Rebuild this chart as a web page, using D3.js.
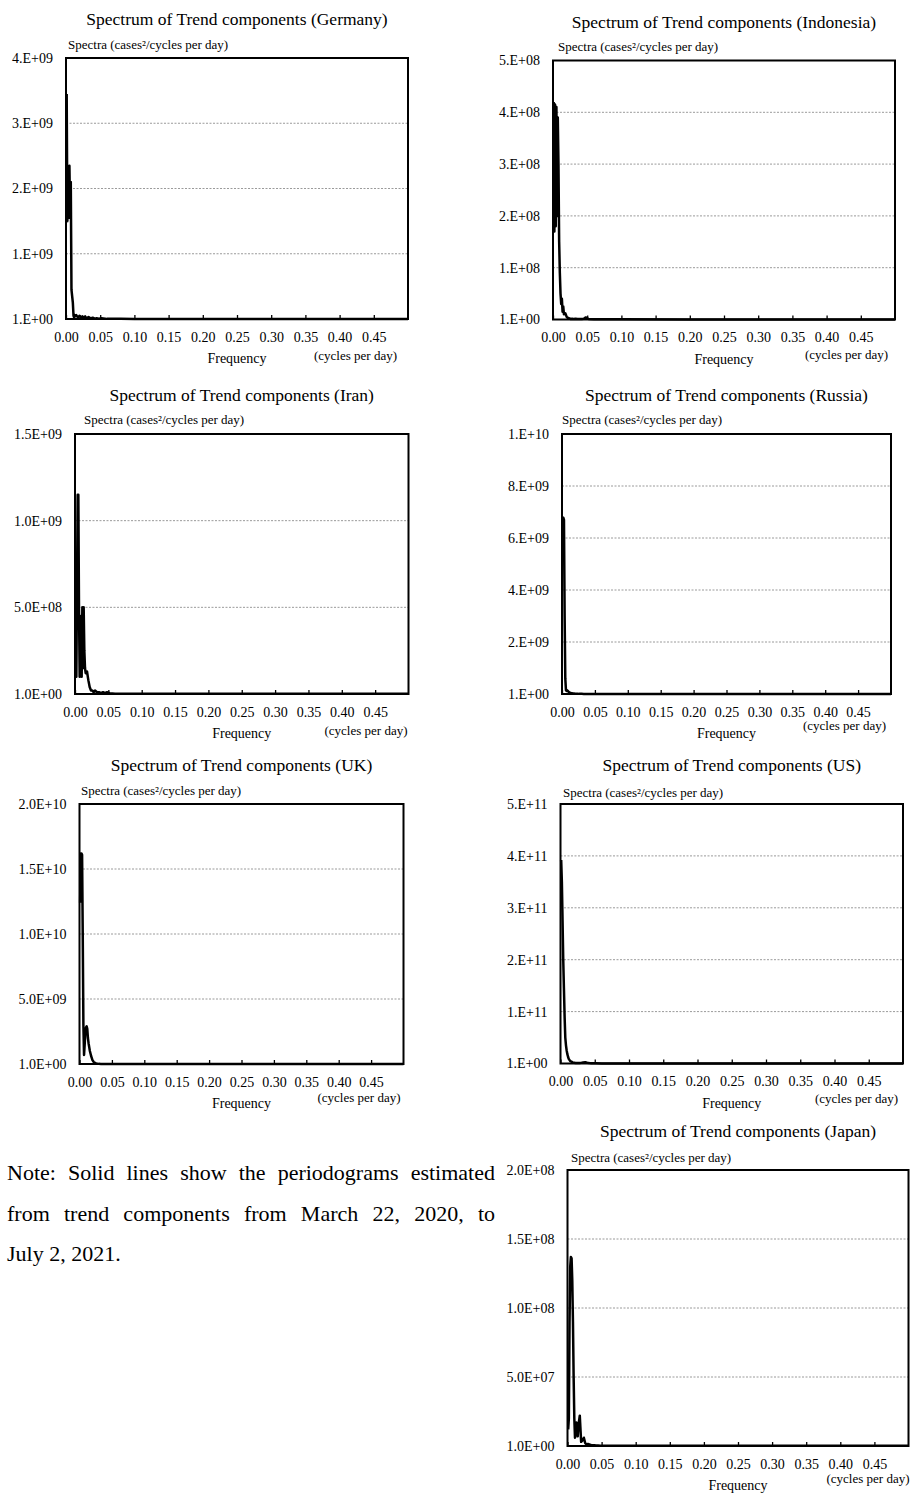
<!DOCTYPE html>
<html>
<head>
<meta charset="utf-8">
<script src="https://cdn.jsdelivr.net/npm/d3@7"></script>
<style>
body { margin: 0; background: #fff; }
#page { position: relative; width: 917px; height: 1493px; }
svg text { font-family: "Liberation Serif", "Times New Roman", serif; fill: #000; }
.note { position: absolute; left: 7px; top: 1153px; width: 488px;
        font-family: "Liberation Serif", "Times New Roman", serif; font-size: 22px; color: #000; }
.note div { line-height: 40.5px; height: 40.5px; }
.note .just { text-align: justify; text-align-last: justify; }
</style>
</head>
<body>
<div id="page"></div>
<script>
// frequencies (cycles per day) shared by all periodograms
var freq = [0.001, 0.002, 0.003, 0.004, 0.005, 0.006, 0.007, 0.008, 0.009, 0.010,
            0.011, 0.012, 0.013, 0.014, 0.015, 0.016, 0.018, 0.020, 0.022, 0.024,
            0.026, 0.028, 0.030, 0.033, 0.036, 0.039, 0.042, 0.045, 0.048, 0.052,
            0.060, 0.080, 0.100, 0.200, 0.300, 0.400, 0.500]

// spectra (in units of 1E+09 / 1E+08 / 1E+11 as noted)
var germany = [3.45, 1.5, 2.3, 1.55, 2.35, 1.6, 2.1, 0.45, 0.35, 0.25,
               0.05, 0.02, 0.06, 0.05, 0.06, 0.04, 0.03, 0.05, 0.02, 0.04,
               0.02, 0.04, 0.01, 0.03, 0.01, 0.02, 0.005, 0.01, 0.005, 0.01,
               0.002, 0.002, 0.001, 0.001, 0.0005, 0.0005, 0.0005]            // E+09
var indonesia = [4.2, 1.7, 4.15, 1.8, 4.1, 2.0, 3.9, 3.0, 1.5, 0.9,
                 0.5, 0.3, 0.4, 0.15, 0.25, 0.1, 0.12, 0.05, 0.03, 0.02,
                 0.01, 0.015, 0.01, 0.015, 0.01, 0.01, 0.01, 0.015, 0.04, 0.01,
                 0.005, 0.003, 0.005, 0.002, 0.001, 0.001, 0.001]             // E+08
var iran = [0.1, 0.1, 0.6, 1.15, 1.15, 0.5, 0.1, 0.3, 0.45, 0.1,
            0.5, 0.15, 0.5, 0.25, 0.15, 0.12, 0.13, 0.08, 0.04, 0.02,
            0.02, 0.01, 0.02, 0.01, 0.01, 0.005, 0.01, 0.005, 0.01, 0.005,
            0.002, 0.002, 0.001, 0.001, 0.001, 0.001, 0.001]                  // E+09
var russia = [6.8, 6.78, 6.7, 3.0, 0.6, 0.15, 0.12, 0.14, 0.12, 0.08,
              0.06, 0.05, 0.04, 0.03, 0.03, 0.02, 0.02, 0.01, 0.01, 0.01,
              0.005, 0.005, 0.005, 0.004, 0.004, 0.003, 0.003, 0.003, 0.002, 0.002,
              0.002, 0.001, 0.001, 0.001, 0.001, 0.001, 0.001]                // E+09
var uk = [12.4, 16.2, 16.2, 16.1, 10.0, 3.0, 0.7, 1.5, 2.4, 2.8,
          2.9, 2.7, 2.0, 1.6, 1.3, 1.0, 0.6, 0.3, 0.15, 0.08,
          0.03, 0.02, 0.01, 0.005, 0.005, 0.003, 0.003, 0.002, 0.002, 0.002,
          0.001, 0.001, 0.001, 0.001, 0.001, 0.001, 0.001]                    // E+09
var us = [3.92, 3.5, 2.75, 2.0, 1.45, 0.9, 0.5, 0.35, 0.25, 0.18,
          0.13, 0.09, 0.07, 0.05, 0.04, 0.035, 0.02, 0.015, 0.01, 0.01,
          0.008, 0.01, 0.012, 0.02, 0.025, 0.015, 0.008, 0.005, 0.004, 0.003,
          0.002, 0.002, 0.001, 0.001, 0.001, 0.001, 0.001]                    // E+11
var japan = [0.12, 0.2, 0.9, 1.3, 1.37, 1.36, 1.2, 0.9, 0.5, 0.2,
             0.06, 0.1, 0.17, 0.15, 0.07, 0.15, 0.22, 0.03, 0.04, 0.06,
             0.02, 0.01, 0.015, 0.01, 0.005, 0.005, 0.003, 0.003, 0.002, 0.002,
             0.002, 0.001, 0.001, 0.001, 0.001, 0.001, 0.001]                 // E+08

// axis ticks and their labels
var freqTicks = [0, 0.05, 0.10, 0.15, 0.20, 0.25, 0.30, 0.35, 0.40, 0.45]
var freqTickLabels = ["0.00", "0.05", "0.10", "0.15", "0.20", "0.25", "0.30", "0.35", "0.40", "0.45"]

var germanyTicks = [0, 1e9, 2e9, 3e9, 4e9]
var germanyLabels = ["1.E+00", "1.E+09", "2.E+09", "3.E+09", "4.E+09"]
var indonesiaTicks = [0, 1e8, 2e8, 3e8, 4e8, 5e8]
var indonesiaLabels = ["1.E+00", "1.E+08", "2.E+08", "3.E+08", "4.E+08", "5.E+08"]
var iranTicks = [0, 5e8, 1e9, 1.5e9]
var iranLabels = ["1.0E+00", "5.0E+08", "1.0E+09", "1.5E+09"]
var russiaTicks = [0, 2e9, 4e9, 6e9, 8e9, 1e10]
var russiaLabels = ["1.E+00", "2.E+09", "4.E+09", "6.E+09", "8.E+09", "1.E+10"]
var ukTicks = [0, 5e9, 1e10, 1.5e10, 2e10]
var ukLabels = ["1.0E+00", "5.0E+09", "1.0E+10", "1.5E+10", "2.0E+10"]
var usTicks = [0, 1e11, 2e11, 3e11, 4e11, 5e11]
var usLabels = ["1.E+00", "1.E+11", "2.E+11", "3.E+11", "4.E+11", "5.E+11"]
var japanTicks = [0, 5e7, 1e8, 1.5e8, 2e8]
var japanLabels = ["1.0E+00", "5.0E+07", "1.0E+08", "1.5E+08", "2.0E+08"]

// panel placement on the page
var panels = [
    { name: "Germany",   values: germany,   unit: 1e9,  ticks: germanyTicks,   labels: germanyLabels,
      left: 66,    right: 408,   top: 58,   bottom: 319,    specDx: 2,   specDy: -8.7, cycDx: -11, cycDy: 41 },
    { name: "Indonesia", values: indonesia, unit: 1e8,  ticks: indonesiaTicks, labels: indonesiaLabels,
      left: 553,   right: 895,   top: 60.5, bottom: 319.5,  specDx: 5,   specDy: -9.5, cycDx: -7,  cycDy: 39 },
    { name: "Iran",      values: iran,      unit: 1e9,  ticks: iranTicks,      labels: iranLabels,
      left: 75,    right: 408.5, top: 434,  bottom: 694,    specDx: 9,   specDy: -10,  cycDx: -1,  cycDy: 41 },
    { name: "Russia",    values: russia,    unit: 1e9,  ticks: russiaTicks,    labels: russiaLabels,
      left: 562,   right: 891,   top: 434,  bottom: 694,    specDx: 0,   specDy: -10.5, cycDx: -5, cycDy: 36 },
    { name: "UK",        values: uk,        unit: 1e9,  ticks: ukTicks,        labels: ukLabels,
      left: 79.5,  right: 403.5, top: 804,  bottom: 1064,   specDx: 1.5, specDy: -9,   cycDx: -3,  cycDy: 37.5 },
    { name: "US",        values: us,        unit: 1e11, ticks: usTicks,        labels: usLabels,
      left: 560.5, right: 903,   top: 804,  bottom: 1063.5, specDx: 2.5, specDy: -7.5, cycDx: -5,  cycDy: 39 },
    { name: "Japan",     values: japan,     unit: 1e8,  ticks: japanTicks,     labels: japanLabels,
      left: 567.5, right: 908.5, top: 1170, bottom: 1446,   specDx: 3.5, specDy: -8.3, cycDx: 1,   cycDy: 37 }
]

var svg = d3.select("#page")
    .append("svg")
    .attr("width", 917)
    .attr("height", 1493)

panels.forEach(drawPanel)

function drawPanel(p) {
    var xScale = d3.scaleLinear()
        .domain([0, 0.5])
        .range([p.left, p.right])
    var yScale = d3.scaleLinear()
        .domain([0, p.ticks[p.ticks.length - 1]])
        .range([p.bottom, p.top])

    var g = svg.append("g")

    // dotted grid lines
    g.selectAll(".grid")
        .data(p.ticks.slice(1))
        .enter()
        .append("line")
        .attr("class", "grid")
        .attr("x1", p.left)
        .attr("x2", p.right)
        .attr("y1", function(d) { return yScale(d) })
        .attr("y2", function(d) { return yScale(d) })
        .attr("stroke", "#9a9a9a")
        .attr("stroke-width", 1)
        .attr("stroke-dasharray", "2,1.5")

    // plot frame
    g.append("rect")
        .attr("x", p.left)
        .attr("y", p.top)
        .attr("width", p.right - p.left)
        .attr("height", p.bottom - p.top)
        .attr("fill", "none")
        .attr("stroke", "#000")
        .attr("stroke-width", 2)

    // periodogram
    var line = d3.line()
        .x(function(d) { return xScale(d[0]) })
        .y(function(d) { return yScale(d[1]) })
    g.append("path")
        .datum(p.values.map(function(v, i) { return [freq[i], v * p.unit] }))
        .attr("d", line)
        .attr("fill", "none")
        .attr("stroke", "#000")
        .attr("stroke-width", 2.5)
        .attr("stroke-linejoin", "round")

    // x axis with inward ticks
    var xAxis = d3.axisBottom(xScale)
        .tickValues(freqTicks)
        .tickFormat(function(d, i) { return freqTickLabels[i] })
        .tickSize(-4)
    var xg = g.append("g")
        .attr("transform", "translate(0," + p.bottom + ")")
        .call(xAxis)
    xg.select(".domain").remove()
    xg.selectAll("line").attr("stroke-width", 1.3)
    xg.selectAll("text")
        .attr("y", 22.5)
        .attr("dy", null)
        .attr("font-size", 14)

    // y axis labels only
    var yAxis = d3.axisLeft(yScale)
        .tickValues(p.ticks)
        .tickFormat(function(d, i) { return p.labels[i] })
        .tickSize(0)
        .tickPadding(13)
    var yg = g.append("g")
        .attr("transform", "translate(" + p.left + ",0)")
        .call(yAxis)
    yg.select(".domain").remove()
    yg.selectAll("text").attr("font-size", 14)

    // titles and labels
    g.append("text")
        .attr("text-anchor", "middle")
        .attr("x", (p.left + p.right) / 2)
        .attr("y", p.top - 33)
        .attr("font-size", 17.5)
        .text("Spectrum of Trend components (" + p.name + ")")

    g.append("text")
        .attr("x", p.left + p.specDx)
        .attr("y", p.top + p.specDy)
        .attr("font-size", 13)
        .text("Spectra (cases\u00b2/cycles per day)")

    g.append("text")
        .attr("text-anchor", "middle")
        .attr("x", (p.left + p.right) / 2)
        .attr("y", p.bottom + 44)
        .attr("font-size", 14)
        .text("Frequency")

    g.append("text")
        .attr("text-anchor", "end")
        .attr("x", p.right + p.cycDx)
        .attr("y", p.bottom + p.cycDy)
        .attr("font-size", 13)
        .text("(cycles per day)")
}

// note beside the Japan panel
var note = d3.select("#page").append("div").attr("class", "note")
note.append("div").attr("class", "just").text("Note: Solid lines show the periodograms estimated")
note.append("div").attr("class", "just").text("from trend components from March 22, 2020, to")
note.append("div").text("July 2, 2021.")
</script>
</body>
</html>
